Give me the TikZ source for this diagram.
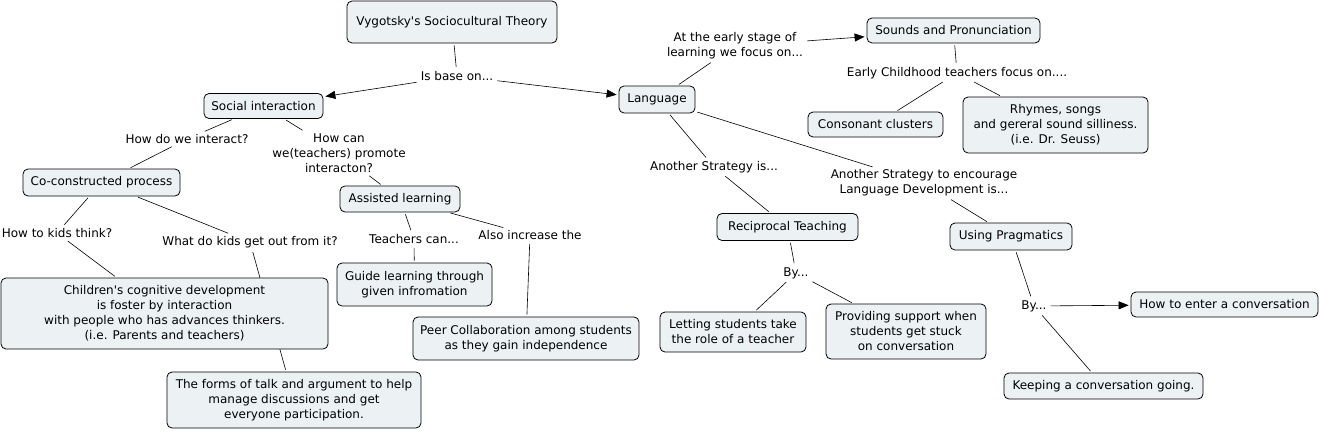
\documentclass[tikz,border=0pt]{standalone}
\usepackage{fontspec}
\newfontfamily\vfont{DejaVu Sans}
\usetikzlibrary{arrows.meta,backgrounds}
\definecolor{boxfill}{HTML}{ECF2F4}
\begin{document}
\begin{tikzpicture}[x=1pt,y=-1pt,
 concept/.style={draw=black,line width=0.8pt,rounded corners=5pt,fill=boxfill,align=center,inner sep=0pt,font=\vfont\fontsize{12}{15}\selectfont},
 phrase/.style={align=center,inner sep=2pt,font=\vfont\fontsize{12}{15}\selectfont},
 link/.style={draw=black,line width=0.6pt,shorten <=2pt,shorten >=2pt},
 arr/.style={link,-{Triangle[length=10pt,width=8pt]}}]
\useasboundingbox (0,0) rectangle (1321,431);
% concepts
\node[concept,minimum width=210,minimum height=42] (vyg) at (452,22) {Vygotsky's Sociocultural Theory};
\node[concept,minimum width=119,minimum height=25] (soc) at (263.5,106) {Social interaction};
\node[concept,minimum width=157,minimum height=27] (cop) at (101.5,182.5) {Co-constructed process};
\node[concept,minimum width=120,minimum height=26] (ass) at (400,199) {Assisted learning};
\node[concept,minimum width=76,minimum height=27] (lang) at (657,99.5) {Language};
\node[concept,minimum width=173,minimum height=25] (snd) at (953.5,30.5) {Sounds and Pronunciation};
\node[concept,minimum width=135,minimum height=25] (cons) at (875.5,124.5) {Consonant clusters};
\node[concept,minimum width=185,minimum height=56] (rhy) at (1055.5,125) {Rhymes, songs\\and gereral sound silliness.\\(i.e. Dr. Seuss)};
\node[concept,minimum width=141,minimum height=27] (rec) at (787.5,227) {Reciprocal Teaching};
\node[concept,minimum width=122,minimum height=27] (prag) at (1011,236.5) {Using Pragmatics};
\node[concept,minimum width=327,minimum height=71] (chi) at (164.5,313.5) {Children's cognitive development\\is foster by interaction\\with people who has advances thinkers.\\(i.e. Parents and teachers)};
\node[concept,minimum width=254,minimum height=56] (form) at (294,400) {The forms of talk and argument to help\\manage discussions and get\\everyone participation.};
\node[concept,minimum width=155,minimum height=43] (guide) at (414.5,284.5) {Guide learning through\\given infromation};
\node[concept,minimum width=226,minimum height=43] (peer) at (526,338.5) {Peer Collaboration among students\\as they gain independence};
\node[concept,minimum width=146,minimum height=40] (let) at (733,332) {Letting students take\\the role of a teacher};
\node[concept,minimum width=160,minimum height=55] (prov) at (906,331.5) {Providing support when\\students get stuck\\on conversation};
\node[concept,minimum width=187,minimum height=25] (ent) at (1224.5,304.5) {How to enter a conversation};
\node[concept,minimum width=199,minimum height=26] (keep) at (1103.5,386) {Keeping a conversation going.};
% linking phrases
\node[phrase] (isb) at (457,76) {Is base on...};
\node[phrase] (hint) at (187,139) {How do we interact?};
\node[phrase] (hcan) at (339,153) {How can\\we(teachers) promote\\interacton?};
\node[phrase] (hthink) at (57,233) {How to kids think?};
\node[phrase] (what) at (250,242) {What do kids get out from it?};
\node[phrase] (tcan) at (414,239) {Teachers can...};
\node[phrase] (also) at (530,235) {Also increase the};
\node[phrase] (early) at (735,46) {At the early stage of\\learning we focus on...};
\node[phrase] (ecf) at (957,73) {Early Childhood teachers focus on....};
\node[phrase] (an1) at (714,167) {Another Strategy is...};
\node[phrase] (an2) at (924,183) {Another Strategy to encourage\\Language Development is...};
\node[phrase] (by1) at (796,273) {By...};
\node[phrase] (by2) at (1034,306) {By...};
% connectors
\begin{pgfonlayer}{background}
\draw[link] (vyg) -- (isb);
\draw[arr] (isb) -- (soc);
\draw[arr] (isb) -- (lang);
\draw[link] (soc) -- (hint);
\draw[link] (hint) -- (cop);
\draw[link] (soc) -- (hcan);
\draw[link] (hcan) -- (ass);
\draw[link] (cop) -- (hthink);
\draw[link] (hthink) -- (chi);
\draw[link] (cop) -- (what);
\draw[link] (what) -- (form);
\draw[link] (ass) -- (tcan);
\draw[link] (tcan) -- (guide);
\draw[link] (ass) -- (also);
\draw[link] (also) -- (peer);
\draw[link] (lang) -- (early);
\draw[arr] (early) -- (snd);
\draw[link] (snd) -- (ecf);
\draw[link] (ecf) -- (cons);
\draw[link] (ecf) -- (rhy);
\draw[link] (lang) -- (an1);
\draw[link] (an1) -- (rec);
\draw[link] (lang) -- (an2);
\draw[link] (an2) -- (prag);
\draw[link] (rec) -- (by1);
\draw[link] (by1) -- (let);
\draw[link] (by1) -- (prov);
\draw[link] (prag) -- (by2);
\draw[arr] (by2) -- (ent);
\draw[link] (by2) -- (keep);
\end{pgfonlayer}
\end{tikzpicture}
\end{document}
